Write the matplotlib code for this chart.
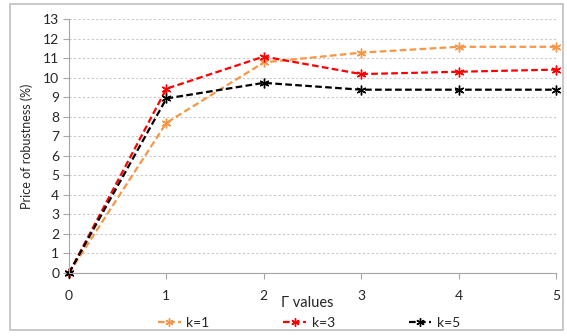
import matplotlib.pyplot as plt
from matplotlib.patches import Rectangle

plt.rcParams['font.family'] = ['Lato', 'DejaVu Sans']

gamma = [0, 1, 2, 3, 4, 5]
k1 = [0, 7.7, 10.8, 11.3, 11.6, 11.6]
k3 = [0, 9.45, 11.1, 10.2, 10.32, 10.43]
k5 = [0, 8.95, 9.75, 9.4, 9.4, 9.4]

series = [("k=1", k1, "#F79646"), ("k=3", k3, "#FF0000"), ("k=5", k5, "#000000")]

fig = plt.figure(figsize=(5.67, 3.36), dpi=100)
ax = fig.add_axes([0.1217, 0.1875, 0.859, 0.7545])

for name, vals, col in series:
    ax.plot(gamma, vals, color=col, lw=1.6, dashes=(3, 1.5), marker=(6, 2, 0),
            ms=7, mew=1.0, label=name, clip_on=False)

ax.set_xlim(0, 5)
ax.set_ylim(0, 13)
ax.set_yticks(range(0, 14))
ax.set_xticks(gamma)
ax.grid(axis='y', color='#C8C8C8', ls=(0, (2, 2)), lw=0.8)
ax.set_axisbelow(True)

for s in ['top', 'right']:
    ax.spines[s].set_visible(False)
for s in ['left', 'bottom']:
    ax.spines[s].set_color('#A6A6A6')
ax.tick_params(axis='both', colors='#A6A6A6', labelcolor='#262626', labelsize=10, length=4)
ax.tick_params(axis='x', pad=8)
ax.tick_params(axis='y', pad=3)

ax.set_ylabel("Price of robustness (%)", fontsize=9, color='#262626', labelpad=7)
ax.set_xlabel("Γ values", fontsize=10.5, color='#262626')
ax.xaxis.set_label_coords(0.489, -0.09)

ax.legend(ncol=3, loc='upper center', bbox_to_anchor=(0.493, -0.125), frameon=False,
          fontsize=10, handlelength=1.65, columnspacing=5.3, handletextpad=0.4,
          labelcolor='#262626', markerscale=0.85)

fig.patches.append(Rectangle((10 / 567, 6 / 336), 553 / 567, 326 / 336,
                             transform=fig.transFigure, fill=False,
                             edgecolor='#BFBFBF', lw=1.2))

fig.savefig("out.png", dpi=100)
